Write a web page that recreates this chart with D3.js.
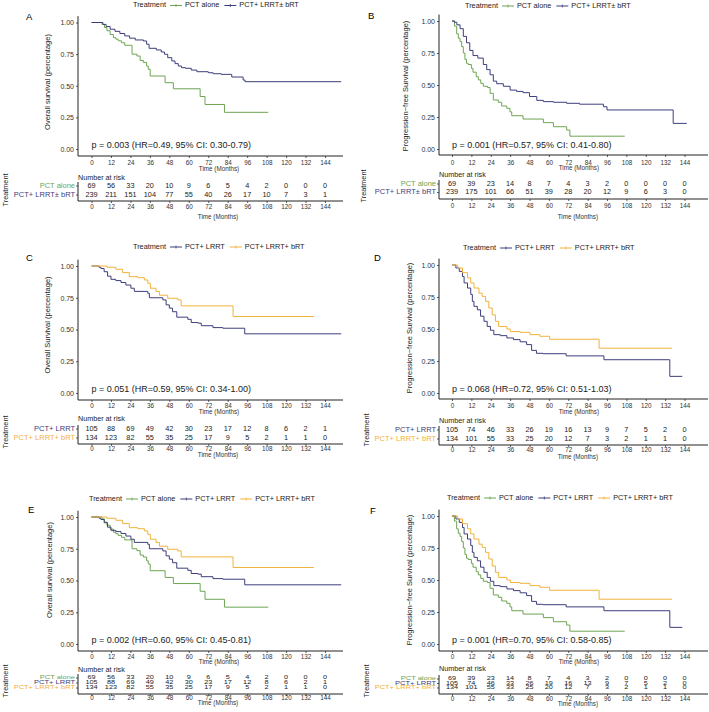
<!DOCTYPE html>
<html><head><meta charset="utf-8">
<script src="https://cdn.jsdelivr.net/npm/d3@7"></script>
<style>body{margin:0;background:#fff}svg{display:block;font-family:"Liberation Sans",Arial,Helvetica,sans-serif}</style>
</head><body><script>
// ---------- data ----------
const months = [0,12,24,36,48,60,72,84,96,108,120,132,144];
const yTicks = [0,0.25,0.5,0.75,1];
const groupNames = ["PCT alone","PCT+ LRRT± bRT","PCT+ LRRT","PCT+ LRRT+ bRT"];
const groupColors = ["#6da553","#3d3e7c","#3d3e7c","#f2b23b"];

// Kaplan–Meier steps: [month, survival from that month on]; last point = end of follow-up
const osPctAlone = [[0,1],[6.5,0.985],[8,0.96],[9.5,0.935],[11.5,0.905],[13.5,0.88],[15,0.868],[16.5,0.855],[18.5,0.84],[20.5,0.82],[25,0.75],[28,0.735],[30,0.70],[32,0.685],[34,0.655],[35,0.63],[36.2,0.577],[45.4,0.524],[50.5,0.476],[67,0.415],[70,0.352],[82,0.29],[109,0.29]];
const osLrrtAny = [[0,1],[7,0.985],[9,0.968],[11.5,0.947],[14.5,0.93],[17.5,0.913],[20.5,0.894],[23.5,0.876],[27,0.862],[32,0.854],[34,0.828],[35.5,0.796],[40,0.783],[43,0.767],[45,0.749],[47,0.722],[49.5,0.696],[51.5,0.675],[53.5,0.656],[55.5,0.643],[58,0.638],[61.5,0.624],[65,0.611],[72,0.603],[75,0.595],[80,0.59],[86.5,0.569],[93.5,0.545],[94.7,0.532],[154,0.532]];
const pfsPctAlone = [[0,1],[1.5,0.96],[2.9,0.90],[3.9,0.865],[5,0.84],[6,0.80],[7,0.75],[8,0.70],[9,0.67],[10,0.66],[12,0.63],[13,0.60],[15,0.565],[16.3,0.54],[17.8,0.513],[19.4,0.49],[22,0.48],[23.6,0.435],[25.6,0.383],[28.7,0.365],[30.8,0.336],[33.9,0.318],[35.9,0.29],[37,0.26],[44,0.234],[56.6,0.206],[62.8,0.174],[71,0.148],[73,0.10],[107,0.10]];
const pfsLrrtAny = [[0,1],[1.5,0.99],[3,0.97],[5,0.94],[7,0.88],[9,0.83],[11,0.77],[13,0.73],[16,0.71],[19.4,0.66],[21.5,0.62],[23.6,0.58],[25.6,0.53],[27.7,0.51],[31.8,0.49],[36,0.46],[40,0.45],[44,0.44],[48,0.41],[52.5,0.38],[56.6,0.37],[62.8,0.365],[71,0.357],[79,0.35],[93.8,0.33],[96,0.305],[137,0.20],[145.4,0.20]];
const osLrrt = [[0,1],[4.7,0.99],[5.8,0.98],[7.8,0.955],[9.9,0.92],[12,0.895],[15,0.885],[18.2,0.87],[21.2,0.85],[24.3,0.825],[26.4,0.80],[34.7,0.785],[35.7,0.75],[44,0.733],[46,0.694],[48,0.668],[50,0.64],[52.6,0.597],[59.4,0.58],[61.5,0.555],[65.6,0.55],[67.7,0.53],[74.9,0.515],[81,0.51],[94.5,0.466],[154,0.466]];
const osLrrtBrt = [[0,1],[9.5,0.99],[15,0.974],[19.2,0.948],[23.3,0.916],[28.5,0.908],[32.6,0.89],[34.7,0.864],[36.3,0.825],[39.8,0.80],[41.9,0.77],[47,0.746],[53.2,0.733],[55.3,0.686],[87.3,0.602],[137.2,0.602]];
const pfsLrrt = [[0,1],[2.4,0.977],[4.5,0.95],[6.5,0.91],[7.5,0.86],[9.6,0.82],[11.6,0.77],[12.6,0.716],[13.6,0.677],[15.7,0.65],[17.7,0.60],[19.8,0.56],[21.8,0.52],[23.8,0.49],[25.9,0.456],[29.9,0.448],[34,0.43],[38.1,0.417],[42.2,0.40],[46.2,0.378],[49.3,0.333],[52.3,0.31],[56.4,0.307],[70.7,0.29],[94.1,0.26],[134.9,0.13],[142.6,0.13]];
const pfsLrrtBrt = [[0,1],[3.5,0.977],[6.5,0.94],[9.6,0.90],[11.6,0.86],[13.6,0.82],[16.7,0.78],[18.7,0.755],[20.8,0.716],[22.8,0.664],[24.9,0.61],[26.9,0.56],[28.9,0.52],[34,0.50],[36.1,0.48],[42.2,0.474],[48.3,0.456],[54.4,0.443],[60.5,0.42],[91.1,0.35],[136.3,0.35]];

// numbers at risk at each tick month
const riskOsPctAlone = [69,56,33,20,10,9,6,5,4,2,0,0,0];
const riskOsLrrtAny = [239,211,151,104,77,55,40,26,17,10,7,3,1];
const riskPfsPctAlone = [69,39,23,14,8,7,4,3,2,0,0,0,0];
const riskPfsLrrtAny = [239,175,101,66,51,39,28,20,12,9,6,3,0];
const riskOsLrrt = [105,88,69,49,42,30,23,17,12,8,6,2,1];
const riskOsLrrtBrt = [134,123,82,55,35,25,17,9,5,2,1,1,0];
const riskPfsLrrt = [105,74,46,33,26,19,16,13,9,7,5,2,0];
const riskPfsLrrtBrt = [134,101,55,33,25,20,12,7,3,2,1,1,0];

const pTexts = ["p = 0.003 (HR=0.49, 95% CI: 0.30-0.79)","p = 0.001 (HR=0.57, 95% CI: 0.41-0.80)","p = 0.051 (HR=0.59, 95% CI: 0.34-1.00)","p = 0.068 (HR=0.72, 95% CI: 0.51-1.03)","p = 0.002 (HR=0.60, 95% CI: 0.45-0.81)","p = 0.001 (HR=0.70, 95% CI: 0.58-0.85)"];
const yTitles = ["Overall survival (percentage)","Progression\u2212free Survival (percentage)","Overall Survival (percentage)","Progression\u2212free Survival (percentage)","Overall survival (percentage)","Progression\u2212free Survival (percentage)"];
const panelLabels = ["A","B","C","D","E","F"];

// ---------- layout ----------
const W = 709, H = 712;
const svg = d3.select("body").append("svg").attr("width",W).attr("height",H);
svg.append("rect").attr("width",W).attr("height",H).attr("fill","#fff");
const COL = {
  left: {yAxisX:78, x0:91.5, x144:325, axisEnd:343},
  right:{yAxisX:439, x0:452, x144:684.5, axisEnd:708}
};
const FONT = '"Liberation Sans",Arial,Helvetica,sans-serif';

function s(gi, data, risk){ return {name:groupNames[gi], color:groupColors[gi], data, risk}; }

const panels = [
 {i:0,col:"left", y1:22.5,y0:149,xAxisY:156,tickLabY:163,timeY:169.5,narY:178,rows:[186,195],riskAxisY:201,riskTickY:207.5,riskTimeY:217,legendX:133,legendY:5.5,labelX:26,labelY:17,yTitleX:48,yTitleY:82,riskTitleX:6,riskTitleY:190,sy:1,
  series:[s(0,osPctAlone,riskOsPctAlone),s(1,osLrrtAny,riskOsLrrtAny)]},
 {i:1,col:"right",y1:21,y0:149,xAxisY:155,tickLabY:163,timeY:168,narY:175,rows:[184,192.5],riskAxisY:199,riskTickY:206,riskTimeY:217,legendX:465,legendY:6,labelX:368,labelY:16,yTitleX:406,yTitleY:86,riskTitleX:364,riskTitleY:186,sy:1,
  series:[s(0,pfsPctAlone,riskPfsPctAlone),s(1,pfsLrrtAny,riskPfsLrrtAny)]},
 {i:2,col:"left", y1:266,y0:393,xAxisY:400,tickLabY:406,timeY:412.5,narY:419,rows:[429,438],riskAxisY:444,riskTickY:449.5,riskTimeY:455,legendX:133,legendY:247,labelX:26,labelY:258,yTitleX:48,yTitleY:325,riskTitleX:6,riskTitleY:432,sy:1,
  series:[s(2,osLrrt,riskOsLrrt),s(3,osLrrtBrt,riskOsLrrtBrt)]},
 {i:3,col:"right",y1:265,y0:393,xAxisY:399,tickLabY:406,timeY:412,narY:421,rows:[430,439],riskAxisY:445,riskTickY:450.5,riskTimeY:457,legendX:463,legendY:248,labelX:374,labelY:258,yTitleX:410,yTitleY:328,riskTitleX:367,riskTitleY:430,sy:1,
  series:[s(2,pfsLrrt,riskPfsLrrt),s(3,pfsLrrtBrt,riskPfsLrrtBrt)]},
 {i:4,col:"left", y1:517,y0:644,xAxisY:651,tickLabY:657,timeY:662,narY:670,rows:[678,683,688],riskAxisY:694,riskTickY:698.5,riskTimeY:703,legendX:89,legendY:499,labelX:28,labelY:510,yTitleX:50,yTitleY:570,riskTitleX:6,riskTitleY:681,sy:0.68,
  series:[s(0,osPctAlone,riskOsPctAlone),s(2,osLrrt,riskOsLrrt),s(3,osLrrtBrt,riskOsLrrtBrt)]},
 {i:5,col:"right",y1:516,y0:644,xAxisY:651,tickLabY:657,timeY:662,narY:669,rows:[679,683.5,688],riskAxisY:694,riskTickY:699,riskTimeY:704,legendX:447,legendY:498,labelX:370,labelY:511,yTitleX:410,yTitleY:580,riskTitleX:367,riskTitleY:681,sy:0.68,
  series:[s(0,pfsPctAlone,riskPfsPctAlone),s(2,pfsLrrt,riskPfsLrrt),s(3,pfsLrrtBrt,riskPfsLrrtBrt)]}
];

function styleAxis(g, size){
  g.attr("font-family",FONT).attr("font-size",size);
  g.select(".domain").remove();
  g.selectAll(".tick line").attr("stroke","#333").attr("stroke-width",0.8);
  g.selectAll(".tick text").attr("fill","#333");
}

function drawPanel(p){
  const c = COL[p.col];
  const x = d3.scaleLinear().domain([0,144]).range([c.x0,c.x144]);
  const y = d3.scaleLinear().domain([0,1]).range([p.y0,p.y1]);
  const g = svg.append("g");

  g.append("text").attr("x",p.labelX).attr("y",p.labelY).attr("font-size",9.5)
    .attr("dominant-baseline","middle").text(panelLabels[p.i]);

  // legend
  const lg = g.append("g").attr("font-size",7.3).attr("fill","#222");
  let lx = p.legendX;
  const t = lg.append("text").attr("x",lx).attr("y",p.legendY).attr("dominant-baseline","middle").text("Treatment");
  lx += t.node().getComputedTextLength() + 4;
  p.series.forEach(se=>{
    lg.append("line").attr("x1",lx).attr("x2",lx+12).attr("y1",p.legendY).attr("y2",p.legendY).attr("stroke",se.color).attr("stroke-width",1);
    lg.append("line").attr("x1",lx+6).attr("x2",lx+6).attr("y1",p.legendY-1.5).attr("y2",p.legendY+1.5).attr("stroke",se.color).attr("stroke-width",0.8);
    lx += 15;
    const tt = lg.append("text").attr("x",lx).attr("y",p.legendY).attr("dominant-baseline","middle").text(se.name);
    lx += tt.node().getComputedTextLength() + 5;
  });

  // axes
  const yAx = g.append("g").attr("transform",`translate(${c.yAxisX},0)`)
    .call(d3.axisLeft(y).tickValues(yTicks).tickFormat(d3.format(".2f")).tickSize(2).tickPadding(2));
  styleAxis(yAx, 7);
  const xAx = g.append("g").attr("transform",`translate(0,${p.xAxisY})`)
    .call(d3.axisBottom(x).tickValues(months).tickSize(2).tickPadding(1));
  styleAxis(xAx, 6.3);
  xAx.selectAll(".tick text").attr("dy",null).attr("y",p.tickLabY-p.xAxisY).attr("dominant-baseline","middle");
  g.append("line").attr("x1",c.yAxisX).attr("x2",c.yAxisX).attr("y1",y(1.05)).attr("y2",p.xAxisY).attr("stroke","#222").attr("stroke-width",1);
  g.append("line").attr("x1",c.yAxisX).attr("x2",c.axisEnd).attr("y1",p.xAxisY).attr("y2",p.xAxisY).attr("stroke","#222").attr("stroke-width",1);

  g.append("text").attr("x",(x(60)+x(96))/2+1).attr("y",p.timeY).attr("text-anchor","middle").attr("dominant-baseline","middle")
    .attr("font-size",6.3).attr("fill","#333").text("Time (Months)");
  g.append("text").attr("transform",`translate(${p.yTitleX},${p.yTitleY}) rotate(-90)`).attr("text-anchor","middle")
    .attr("dominant-baseline","middle").attr("font-size",7.5).attr("fill","#222").text(yTitles[p.i]);

  // curves
  const line = d3.line().curve(d3.curveStepAfter).x(d=>x(d[0])).y(d=>y(d[1]));
  p.series.forEach(se=>{
    g.append("path").attr("d",line(se.data)).attr("fill","none").attr("stroke",se.color).attr("stroke-width",1);
  });

  g.append("text").attr("x",x(0)).attr("y",y(0)-3.5).attr("dominant-baseline","middle").attr("font-size",9).attr("fill","#222").text(pTexts[p.i]);

  // risk table
  g.append("text").attr("x",c.yAxisX).attr("y",p.narY).attr("dominant-baseline","middle").attr("font-size",7.2).attr("fill","#222").text("Number at risk");
  g.append("line").attr("x1",c.yAxisX).attr("x2",c.yAxisX).attr("y1",p.rows[0]-4).attr("y2",p.riskAxisY).attr("stroke","#222").attr("stroke-width",1);
  g.append("line").attr("x1",c.yAxisX).attr("x2",c.axisEnd).attr("y1",p.riskAxisY).attr("y2",p.riskAxisY).attr("stroke","#222").attr("stroke-width",1);
  p.series.forEach((se,k)=>{
    const ry = p.rows[k];
    g.append("line").attr("x1",c.yAxisX-2).attr("x2",c.yAxisX).attr("y1",ry).attr("y2",ry).attr("stroke","#333").attr("stroke-width",0.8);
    g.append("text").attr("transform",`translate(${c.yAxisX-3},${ry}) scale(1,${p.sy})`).attr("text-anchor","end")
      .attr("dominant-baseline","middle").attr("font-size",7.5).attr("fill",se.color).text(se.name);
    se.risk.forEach((n,j)=>{
      g.append("text").attr("transform",`translate(${x(months[j])},${ry}) scale(1,${p.sy})`).attr("text-anchor","middle")
        .attr("dominant-baseline","middle").attr("font-size",7.3).attr("fill","#222").text(n);
    });
  });
  const rAx = g.append("g").attr("transform",`translate(0,${p.riskAxisY})`)
    .call(d3.axisBottom(x).tickValues(months).tickSize(2).tickPadding(1));
  styleAxis(rAx, 6.3);
  rAx.selectAll(".tick text").attr("dy",null).attr("y",p.riskTickY-p.riskAxisY).attr("dominant-baseline","middle");
  g.append("text").attr("x",(x(60)+x(96))/2).attr("y",p.riskTimeY).attr("text-anchor","middle").attr("dominant-baseline","middle")
    .attr("font-size",6.3).attr("fill","#333").text("Time (Months)");
  g.append("text").attr("transform",`translate(${p.riskTitleX},${p.riskTitleY}) rotate(-90)`).attr("text-anchor","middle")
    .attr("dominant-baseline","middle").attr("font-size",7.3).attr("fill","#222").text("Treatment");
}

panels.forEach(drawPanel);
</script></body></html>
